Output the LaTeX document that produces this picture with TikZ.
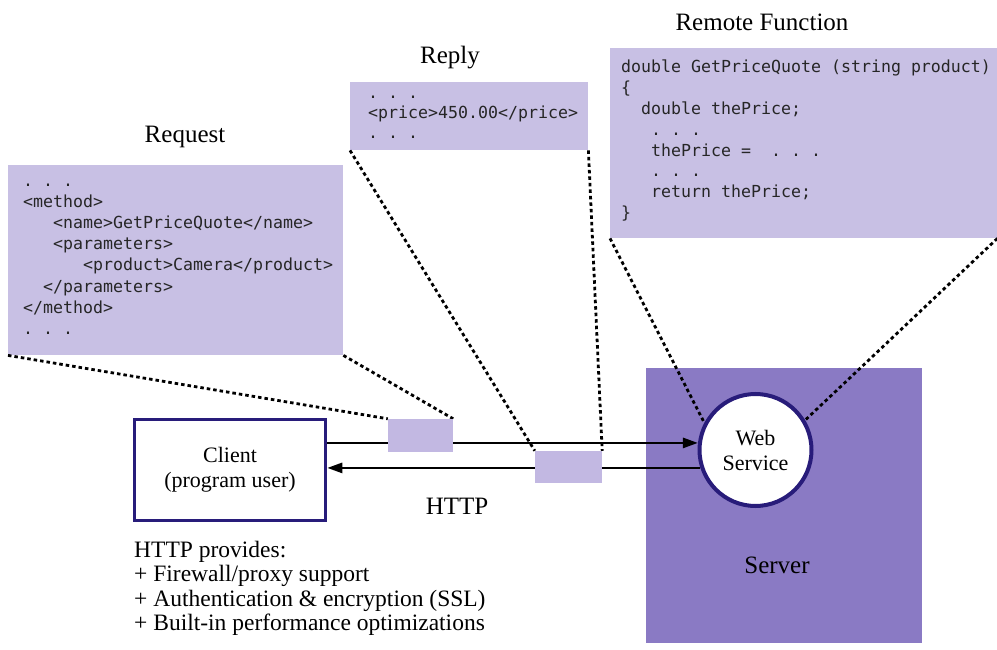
\documentclass[tikz,border=0pt]{standalone}
\usepackage{fontspec}
\setmainfont{Liberation Serif}
\setmonofont{DejaVu Sans Mono}
\usetikzlibrary{arrows.meta,positioning}
\definecolor{lavender}{RGB}{200,192,228}
\definecolor{pktfill}{RGB}{194,184,226}
\definecolor{serverfill}{RGB}{138,122,196}
\definecolor{navy}{RGB}{40,28,122}
\pgfdeclarelayer{back}
\pgfdeclarelayer{lines}
\pgfsetlayers{back,lines,main}
\tikzset{
	msgbox/.style={fill=lavender, inner sep=0pt, anchor=north west},
	packet/.style={fill=pktfill, inner sep=0pt, minimum width=66pt, minimum height=33pt},
	code/.style={font=\fontsize{16.6}{20}\ttfamily, inner sep=0pt, anchor=base west, text=black!85},
	lbl/.style={font=\fontsize{25}{30}\selectfont, inner sep=0pt},
	dots/.style={dash pattern=on 3.5pt off 3pt, line width=2.8pt},
	arr/.style={line width=2.6pt, -{Triangle[length=15pt,width=10pt]}},
}
\begin{document}
\begin{tikzpicture}[x=1pt, y=-1pt]
	\useasboundingbox (0,0) rectangle (997,650);
	% message boxes and server
	\begin{pgfonlayer}{back}
		\node[msgbox, minimum width=335pt, minimum height=190pt] (reqbox) at (8,165) {};
		\node[msgbox, minimum width=238pt, minimum height=68pt] (replybox) at (350,82) {};
		\node[msgbox, minimum width=387pt, minimum height=190pt] (funcbox) at (610,48) {};
		\node[fill=serverfill, inner sep=0pt, anchor=north west, minimum width=276pt, minimum height=275pt] (server) at (646,368) {};
	\end{pgfonlayer}
	\node[lbl] (reqlbl) at (185,137) {Request};
	\node[lbl] (replylbl) at (450,58) {Reply};
	\node[lbl] (funclbl) at (762,22) {Remote Function};
	% code lines
	\foreach \ind/\txt [count=\i] in {0/{. . .}, 0/{<method>}, 3/{<name>GetPriceQuote</name>}, 3/{<parameters>}, 6/{<product>Camera</product>}, 2/{</parameters>}, 0/{</method>}, 0/{. . .}}
		\node[code] (req\i) at ({23+10*\ind}, {186+21.2*(\i-1)}) {\txt};
	\foreach \txt [count=\i] in {{. . .}, {<price>450.00</price>}, {. . .}}
		\node[code] (reply\i) at (368, {99+20*(\i-1)}) {\txt};
	\foreach \ind/\txt [count=\i] in {0/{double GetPriceQuote (string product)}, 0/{\{}, 2/{double thePrice;}, 3/{. . .}, 3/{thePrice =~~. . .}, 3/{. . .}, 3/{return thePrice;}, 0/{\}}}
		\node[code] (func\i) at ({621+10*\ind}, {73+20.8*(\i-1)}) {\txt};
	% client, web service, packets
	\node[draw=navy, line width=3.5pt, minimum width=191pt, minimum height=101pt, align=center, font=\fontsize{22}{25}\selectfont] (client) at (230,470) {Client\\(program user)};
	\node[circle, fill=white, draw=navy, line width=4pt, minimum size=112pt, inner sep=0pt, align=center, font=\fontsize{22}{25}\selectfont] (ws) at (755.5,450) {Web\\Service};
	\node[packet, minimum width=65pt] (reqpkt) at (420.5,435.5) {};
	\node[packet, minimum width=67pt, minimum height=32pt] (replypkt) at (568.5,467) {};
	\node[lbl] (httplbl) at (457,506) {HTTP};
	\node[lbl] (serverlbl) at (777,565) {Server};
	\node[anchor=north west, align=left, inner sep=0pt, font=\fontsize{23.5}{24.4}\selectfont] (notes) at (134,541) {HTTP provides:\\+ Firewall/proxy support\\+ Authentication \& encryption (SSL)\\+ Built-in performance optimizations};
	% connectors
	\begin{pgfonlayer}{lines}
		\draw[dots] (reqbox.south west) -- (reqpkt.north west);
		\draw[dots] (reqbox.south east) -- (reqpkt.north east);
		\draw[dots] (replybox.south west) -- (replypkt.north west);
		\draw[dots] (replybox.south east) -- (replypkt.north east);
		\draw[dots] (funcbox.south west) -- (ws.152);
		\draw[dots] (funcbox.south east) -- (ws.31);
		\draw[arr] (client.east |- ws.173) -- (ws.173);
		\draw[arr] (ws.198) -- (client.east |- ws.198);
	\end{pgfonlayer}
\end{tikzpicture}
\end{document}
